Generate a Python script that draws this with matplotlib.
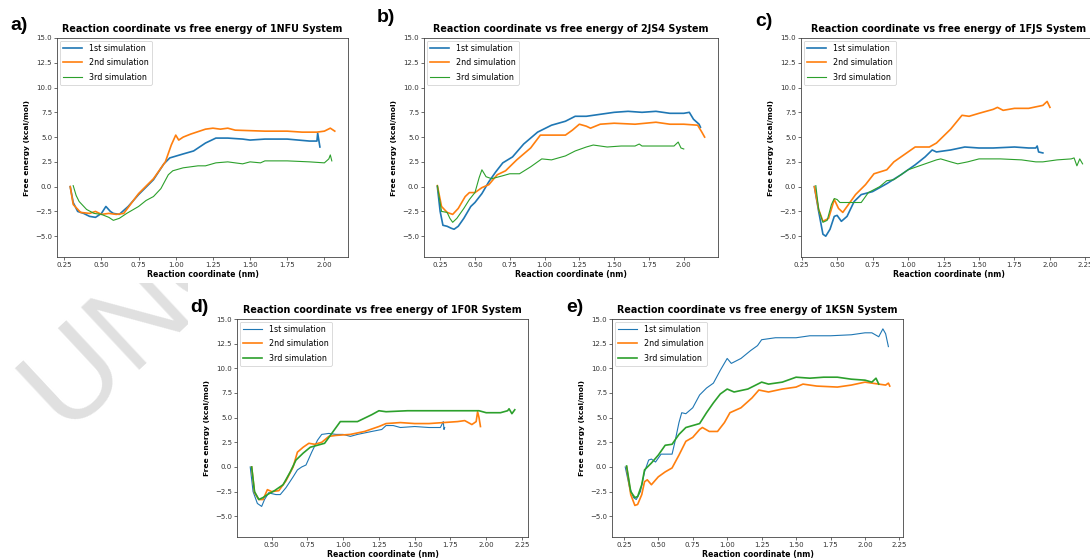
import matplotlib
matplotlib.use("Agg")
import matplotlib.pyplot as plt
from matplotlib.transforms import Bbox, TransformedBbox

# ---------------- data ----------------
sim_labels = ["1st simulation", "2nd simulation", "3rd simulation"]
panel_letters = ["a)", "b)", "c)", "d)", "e)"]
systems = ["1NFU", "2JS4", "1FJS", "1F0R", "1KSN"]
y_ticks = [-5.0, -2.5, 0.0, 2.5, 5.0, 7.5, 10.0, 12.5, 15.0]

# a) 1NFU
a_x1 = [0.29, 0.31, 0.34, 0.38, 0.42, 0.46, 0.50, 0.53, 0.56, 0.58, 0.62, 0.68, 0.75, 0.85, 0.92, 0.96, 1.05, 1.12, 1.20, 1.27, 1.35, 1.45, 1.50, 1.60, 1.75, 1.90, 1.95, 1.955, 1.97]
a_y1 = [0.0, -1.6, -2.5, -2.7, -3.0, -3.1, -2.7, -2.0, -2.5, -2.7, -2.8, -2.0, -0.8, 0.7, 2.3, 2.9, 3.3, 3.6, 4.4, 4.9, 4.9, 4.8, 4.7, 4.8, 4.8, 4.6, 4.6, 5.4, 4.0]
a_x2 = [0.29, 0.31, 0.36, 0.42, 0.46, 0.50, 0.55, 0.60, 0.65, 0.75, 0.85, 0.93, 0.97, 1.00, 1.02, 1.05, 1.10, 1.20, 1.25, 1.30, 1.35, 1.40, 1.60, 1.75, 1.85, 1.95, 2.00, 2.04, 2.07]
a_y2 = [0.0, -1.8, -2.6, -2.7, -2.5, -2.8, -2.7, -2.8, -2.7, -0.7, 0.8, 2.5, 4.2, 5.2, 4.7, 5.0, 5.3, 5.8, 5.9, 5.8, 5.9, 5.7, 5.6, 5.6, 5.5, 5.5, 5.6, 5.9, 5.6]
a_x3 = [0.31, 0.33, 0.35, 0.40, 0.45, 0.50, 0.55, 0.58, 0.62, 0.67, 0.75, 0.80, 0.85, 0.90, 0.95, 0.98, 1.05, 1.15, 1.20, 1.27, 1.35, 1.45, 1.50, 1.57, 1.60, 1.75, 1.90, 2.00, 2.03, 2.04, 2.05]
a_y3 = [0.1, -0.9, -1.5, -2.3, -2.7, -2.8, -3.1, -3.4, -3.2, -2.7, -2.0, -1.4, -1.0, -0.2, 1.2, 1.6, 1.9, 2.1, 2.1, 2.4, 2.5, 2.3, 2.5, 2.4, 2.6, 2.6, 2.5, 2.4, 2.8, 3.2, 2.6]

# b) 2JS4
b_x1 = [0.23, 0.25, 0.27, 0.30, 0.33, 0.35, 0.38, 0.42, 0.47, 0.50, 0.55, 0.60, 0.65, 0.70, 0.77, 0.85, 0.95, 1.05, 1.15, 1.22, 1.30, 1.40, 1.50, 1.60, 1.70, 1.80, 1.90, 2.00, 2.04, 2.07, 2.11, 2.12]
b_y1 = [0.0, -2.5, -3.9, -4.0, -4.2, -4.3, -4.0, -3.2, -2.0, -1.6, -0.7, 0.5, 1.5, 2.4, 3.0, 4.3, 5.5, 6.2, 6.6, 7.1, 7.1, 7.3, 7.5, 7.6, 7.5, 7.6, 7.4, 7.4, 7.5, 6.8, 6.3, 6.0]
b_x2 = [0.23, 0.26, 0.30, 0.34, 0.38, 0.43, 0.46, 0.50, 0.55, 0.60, 0.66, 0.72, 0.80, 0.90, 0.97, 1.05, 1.15, 1.20, 1.25, 1.30, 1.33, 1.40, 1.50, 1.65, 1.80, 1.90, 2.00, 2.10, 2.13, 2.15]
b_y2 = [0.1, -2.0, -2.6, -2.8, -2.2, -1.0, -0.6, -0.6, -0.1, 0.2, 1.2, 1.6, 2.7, 3.9, 5.2, 5.2, 5.2, 5.7, 6.3, 6.1, 5.9, 6.3, 6.4, 6.3, 6.5, 6.3, 6.3, 6.2, 5.5, 5.0]
b_x3 = [0.23, 0.26, 0.30, 0.32, 0.34, 0.37, 0.42, 0.46, 0.50, 0.53, 0.55, 0.58, 0.62, 0.70, 0.75, 0.82, 0.90, 0.98, 1.05, 1.15, 1.22, 1.30, 1.35, 1.45, 1.55, 1.65, 1.68, 1.70, 1.80, 1.93, 1.96, 1.98, 2.00]
b_y3 = [0.1, -2.5, -2.6, -3.2, -3.6, -3.2, -2.2, -1.3, -0.6, 0.9, 1.7, 1.0, 0.8, 1.1, 1.3, 1.3, 2.0, 2.8, 2.7, 3.1, 3.6, 4.0, 4.2, 4.0, 4.1, 4.1, 4.3, 4.1, 4.1, 4.1, 4.5, 3.9, 3.8]

# c) 1FJS
c_x1 = [0.34, 0.37, 0.40, 0.42, 0.45, 0.48, 0.50, 0.53, 0.57, 0.62, 0.67, 0.75, 0.85, 0.95, 1.05, 1.12, 1.17, 1.20, 1.30, 1.40, 1.50, 1.60, 1.75, 1.85, 1.90, 1.91, 1.92, 1.95]
c_y1 = [0.0, -2.5, -4.8, -5.0, -4.3, -3.0, -2.9, -3.5, -3.0, -1.5, -0.8, -0.5, 0.3, 1.2, 2.2, 3.0, 3.7, 3.5, 3.7, 4.0, 3.9, 3.9, 4.0, 3.9, 3.9, 4.1, 3.5, 3.4]
c_x2 = [0.34, 0.37, 0.40, 0.44, 0.48, 0.51, 0.54, 0.58, 0.63, 0.70, 0.76, 0.85, 0.90, 0.97, 1.05, 1.15, 1.20, 1.30, 1.38, 1.43, 1.50, 1.60, 1.63, 1.67, 1.75, 1.85, 1.95, 1.98, 2.00]
c_y2 = [0.0, -2.3, -3.5, -3.2, -1.3, -2.2, -2.6, -1.8, -0.8, 0.2, 1.3, 1.7, 2.5, 3.2, 4.0, 4.0, 4.4, 5.8, 7.2, 7.1, 7.4, 7.8, 8.0, 7.7, 7.9, 7.9, 8.2, 8.6, 8.0]
c_x3 = [0.35, 0.37, 0.40, 0.43, 0.46, 0.48, 0.50, 0.52, 0.60, 0.67, 0.72, 0.80, 0.85, 0.90, 1.00, 1.10, 1.20, 1.23, 1.30, 1.35, 1.42, 1.50, 1.65, 1.80, 1.90, 1.95, 2.05, 2.15, 2.17, 2.19, 2.21, 2.23]
c_y3 = [0.1, -2.3, -3.6, -3.4, -1.8, -1.2, -1.3, -1.6, -1.6, -1.6, -0.6, 0.0, 0.6, 0.7, 1.7, 2.2, 2.7, 2.8, 2.5, 2.3, 2.5, 2.8, 2.8, 2.7, 2.5, 2.5, 2.7, 2.8, 2.9, 2.1, 2.8, 2.3]

# d) 1F0R
d_x1 = [0.35, 0.37, 0.40, 0.43, 0.45, 0.48, 0.50, 0.53, 0.56, 0.60, 0.65, 0.68, 0.71, 0.74, 0.78, 0.82, 0.85, 0.90, 0.95, 1.00, 1.05, 1.10, 1.20, 1.27, 1.30, 1.35, 1.40, 1.50, 1.60, 1.68, 1.70, 1.705, 1.71]
d_y1 = [0.0, -2.5, -3.7, -4.0, -3.3, -2.6, -2.7, -2.8, -2.8, -2.1, -1.0, -0.3, 0.0, 0.2, 1.5, 2.7, 3.3, 3.4, 3.3, 3.3, 3.1, 3.3, 3.6, 3.8, 4.2, 4.2, 4.0, 4.1, 4.0, 4.0, 4.6, 3.8, 4.0]
d_x2 = [0.36, 0.38, 0.41, 0.44, 0.47, 0.50, 0.55, 0.60, 0.65, 0.68, 0.72, 0.76, 0.80, 0.85, 0.90, 0.95, 1.05, 1.15, 1.25, 1.30, 1.40, 1.50, 1.60, 1.70, 1.80, 1.85, 1.90, 1.93, 1.94, 1.95, 1.96]
d_y2 = [0.0, -2.6, -3.3, -3.3, -2.3, -2.5, -2.4, -1.4, 0.0, 1.5, 2.0, 2.4, 2.3, 2.5, 3.1, 3.2, 3.3, 3.6, 4.1, 4.4, 4.5, 4.4, 4.4, 4.5, 4.6, 4.7, 4.3, 4.6, 5.6, 5.0, 4.1]
d_x3 = [0.36, 0.38, 0.41, 0.44, 0.47, 0.52, 0.58, 0.63, 0.67, 0.72, 0.77, 0.82, 0.87, 0.90, 0.95, 0.98, 1.05, 1.10, 1.20, 1.25, 1.30, 1.45, 1.60, 1.80, 1.95, 2.00, 2.10, 2.15, 2.16, 2.18, 2.20]
d_y3 = [0.0, -2.5, -3.3, -3.1, -2.8, -2.4, -1.8, -0.5, 0.7, 1.4, 2.0, 2.2, 2.4, 3.0, 4.0, 4.6, 4.6, 4.6, 5.3, 5.7, 5.6, 5.7, 5.7, 5.7, 5.7, 5.5, 5.5, 5.7, 5.9, 5.4, 5.8]

# e) 1KSN
e_x1 = [0.26, 0.29, 0.32, 0.34, 0.37, 0.40, 0.43, 0.45, 0.48, 0.52, 0.56, 0.60, 0.62, 0.65, 0.67, 0.70, 0.75, 0.80, 0.85, 0.90, 0.95, 1.00, 1.03, 1.10, 1.17, 1.22, 1.25, 1.35, 1.50, 1.60, 1.75, 1.90, 2.00, 2.05, 2.10, 2.13, 2.15, 2.17]
e_y1 = [0.0, -2.0, -3.1, -3.3, -2.5, -0.5, 0.7, 0.8, 0.5, 1.3, 1.3, 1.3, 2.5, 4.5, 5.5, 5.4, 6.0, 7.3, 8.0, 8.5, 9.8, 11.0, 10.5, 11.0, 11.8, 12.3, 12.9, 13.1, 13.1, 13.3, 13.3, 13.4, 13.6, 13.6, 13.2, 14.0, 13.5, 12.2]
e_x2 = [0.27, 0.30, 0.33, 0.35, 0.38, 0.40, 0.42, 0.45, 0.50, 0.55, 0.60, 0.65, 0.70, 0.75, 0.80, 0.82, 0.87, 0.93, 0.98, 1.02, 1.10, 1.18, 1.23, 1.30, 1.40, 1.50, 1.55, 1.65, 1.80, 1.90, 2.00, 2.10, 2.15, 2.17, 2.18]
e_y2 = [0.0, -2.8, -3.9, -3.8, -2.8, -1.5, -1.3, -1.8, -1.0, -0.5, -0.1, 1.2, 2.6, 3.0, 3.8, 4.0, 3.6, 3.6, 4.5, 5.5, 6.0, 7.0, 7.8, 7.6, 7.9, 8.1, 8.4, 8.2, 8.1, 8.3, 8.6, 8.4, 8.3, 8.5, 8.2]
e_x3 = [0.27, 0.30, 0.33, 0.35, 0.38, 0.40, 0.45, 0.50, 0.55, 0.60, 0.65, 0.70, 0.75, 0.80, 0.85, 0.90, 0.95, 1.00, 1.05, 1.15, 1.25, 1.30, 1.40, 1.50, 1.60, 1.70, 1.80, 1.90, 2.00, 2.05, 2.08, 2.10]
e_y3 = [0.1, -2.5, -3.1, -3.0, -1.8, -0.3, 0.4, 1.2, 2.2, 2.3, 3.3, 4.0, 4.2, 4.4, 5.5, 6.5, 7.4, 7.9, 7.6, 7.9, 8.6, 8.4, 8.6, 9.1, 9.0, 9.1, 9.1, 8.9, 8.8, 8.6, 9.0, 8.4]

panels = [
    [(a_x1, a_y1), (a_x2, a_y2), (a_x3, a_y3)],
    [(b_x1, b_y1), (b_x2, b_y2), (b_x3, b_y3)],
    [(c_x1, c_y1), (c_x2, c_y2), (c_x3, c_y3)],
    [(d_x1, d_y1), (d_x2, d_y2), (d_x3, d_y3)],
    [(e_x1, e_y1), (e_x2, e_y2), (e_x3, e_y3)],
]

# ---------------- layout / style ----------------
W, H = 1090, 560
fig = plt.figure(figsize=(W / 100, H / 100), dpi=100)

def px_rect(left, top, right, bottom):
    return [left / W, 1 - bottom / H, (right - left) / W, (bottom - top) / H]

rects = [
    px_rect(57, 38, 348, 257),
    px_rect(424, 38, 718, 257),
    px_rect(801, 38, 1096, 257),
    px_rect(237, 319, 528, 537),
    px_rect(612, 319, 903, 537),
]
letter_pos = [(10, 25), (377, 17), (755, 21), (190, 307), (566, 307)]
colors = ["#1f77b4", "#ff7f0e", "#2ca02c"]
widths = [
    [1.2, 1.2, 0.8],
    [1.2, 1.2, 0.8],
    [1.2, 1.2, 0.8],
    [0.8, 1.2, 1.2],
    [0.8, 1.2, 1.2],
]

# watermark (only visible in the empty lower-left page area)
wm = fig.text(67 / W, 1 - 437 / H, "UNCORRECTED PROOF", rotation=43,
              rotation_mode="anchor", ha="left", va="baseline",
              fontsize=89, family="Liberation Sans", color="#e0e0e0",
              zorder=-5)
wm.set_clip_box(TransformedBbox(Bbox([[0, 0], [188 / W, (H - 283) / H]]),
                                fig.transFigure))
wm.set_clip_on(True)

for i, rect in enumerate(rects):
    ax = fig.add_axes(rect)
    for j, (xs, ys) in enumerate(panels[i]):
        ax.plot(xs, ys, color=colors[j], lw=widths[i][j], label=sim_labels[j])
    ax.set_ylim(-7.1, 15)
    ax.set_yticks(y_ticks)
    ax.set_yticklabels([f"{v:.1f}".replace("-", "\u2212") for v in y_ticks])
    ax.tick_params(labelsize=5, colors="#333333", length=2, width=0.5, pad=1.5)
    for s in ax.spines.values():
        s.set_linewidth(0.6)
        s.set_color("#444444")
    ax.set_title(f"Reaction coordinate vs free energy of {systems[i]} System",
                 fontsize=6.9, fontweight="bold", pad=4)
    ax.set_xlabel("Reaction coordinate (nm)", fontsize=5.6, fontweight="bold", labelpad=1.5)
    ax.set_ylabel("Free energy (kcal/mol)", fontsize=5.4, fontweight="bold", labelpad=4)
    leg = ax.legend(loc="upper left", fontsize=5.8, handlelength=2.4,
                    labelspacing=0.65, borderaxespad=0.35, framealpha=1)
    leg.get_frame().set_linewidth(0.5)
    leg.get_frame().set_edgecolor("#cccccc")
    lx, ly = letter_pos[i]
    fig.text(lx / W, 1 - ly / H, panel_letters[i], fontsize=14,
             fontweight="bold", family="Liberation Sans", ha="left", va="center")

fig.savefig("out.png", dpi=100)
